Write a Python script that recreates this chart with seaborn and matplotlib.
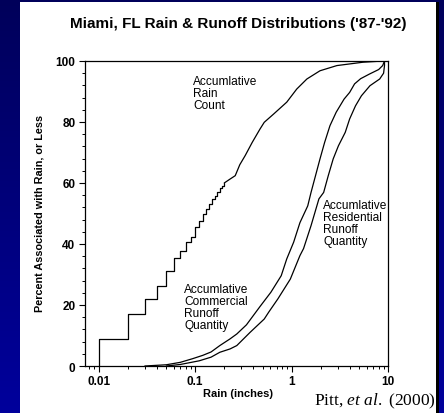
import numpy as np
import pandas as pd
import seaborn as sns
import matplotlib
matplotlib.use("Agg")
import matplotlib.pyplot as plt
from matplotlib.patches import Rectangle
from matplotlib.colors import LinearSegmentedColormap
from matplotlib.ticker import FixedLocator, LogLocator, MultipleLocator, NullFormatter

# ---------------- data ----------------
rain_step_x = [0.01, 0.01, 0.02, 0.03, 0.04, 0.05, 0.06, 0.07, 0.08, 0.09, 0.10,
               0.11, 0.12, 0.13, 0.14, 0.15, 0.16, 0.17, 0.18, 0.19, 0.20]
rain_step_y = [0, 9, 17, 22, 26.3, 31.2, 35.3, 37.8, 40.8, 42.2, 45.5,
               47.7, 49.8, 51.5, 53, 54.8, 55.8, 57, 58.2, 59.1, 60]
rain_x = [0.20, 0.23, 0.26, 0.29, 0.33, 0.39, 0.47, 0.52, 0.65, 0.89, 1.13,
          1.44, 1.97, 2.95, 5.5, 8.9, 10]
rain_y = [60, 61.3, 62.4, 66, 69, 73.3, 77.7, 79.9, 82.6, 86.5, 90.8,
          94.1, 96.8, 98.5, 99.6, 100, 100]

commercial_x = [0.03, 0.05, 0.07, 0.094, 0.12, 0.146, 0.18, 0.23, 0.27, 0.34,
                0.47, 0.61, 0.78, 0.89, 1.05, 1.22, 1.47, 1.59, 1.77, 1.97,
                2.2, 2.5, 2.9, 3.5, 4.0, 4.5, 5.2, 6.4, 8.0, 8.8, 9.2]
commercial_y = [0, 0.4, 1.2, 2.4, 3.5, 4.6, 6.7, 8.9, 10.5, 13.5,
                19.5, 24.2, 29.6, 35.1, 40.6, 47, 52.5, 56.9, 62.4, 67.9,
                73.3, 78.8, 83.2, 87.5, 89.7, 92.5, 94.2, 95.7, 97.2, 98.5, 100]

residential_x = [0.05, 0.07, 0.11, 0.146, 0.18, 0.23, 0.27, 0.37, 0.52, 0.58,
                 0.72, 0.97, 1.22, 1.33, 1.59, 1.92, 2.15, 2.4, 2.7, 3.06,
                 3.6, 4.0, 4.6, 5.3, 6.5, 8.2, 9.0, 9.2, 9.2]
residential_y = [0, 0.5, 1.7, 2.9, 4.5, 5.6, 6.7, 11, 15.4, 17.7,
                 22, 28.5, 36.2, 38.5, 46, 54.8, 56.9, 62.4, 67.9, 72.2,
                 76.6, 81, 85.3, 88.6, 91.9, 94.1, 96, 98.5, 100]

x_ticks = [0.01, 0.1, 1, 10]
x_tick_labels = ["0.01", "0.1", "1", "10"]
y_ticks = [0, 20, 40, 60, 80, 100]

title = "Miami, FL Rain & Runoff Distributions ('87-'92)"
x_label = "Rain (inches)"
y_label = "Percent Associated with Rain, or Less"

# ---------------- style ----------------
sns.set_theme(style="ticks")
plt.rcParams["font.family"] = ["Liberation Sans", "DejaVu Sans"]
plt.rcParams["mathtext.fontset"] = "custom"
plt.rcParams["mathtext.rm"] = "Liberation Serif"
plt.rcParams["mathtext.it"] = "Liberation Serif:italic"

W, H = 444, 414
fig = plt.figure(figsize=(W / 100, H / 100), dpi=100)

# background gradient + white panel
bg = fig.add_axes([0, 0, 1, 1], zorder=-10)
grad = np.linspace(0, 1, 256)[:, None]
cmap = LinearSegmentedColormap.from_list("bg", ["#00005a", "#00009c"])
bg.imshow(grad, aspect="auto", cmap=cmap, extent=[0, 1, 0, 1], origin="upper")
bg.add_patch(Rectangle((20 / W, 0), (436 - 20) / W, (H - 3) / H,
                       facecolor="white", edgecolor="none", transform=bg.transAxes))
bg.add_patch(Rectangle((436 / W, 0), 3 / W, (H - 3) / H,
                       facecolor="black", edgecolor="none", transform=bg.transAxes))
bg.set_axis_off()

# main axes
ax = fig.add_axes([84.5 / W, 1 - 367 / H, (388 - 84.5) / W, (367 - 62) / H])
ax.set_facecolor("white")

lw = 0.9
sns.lineplot(x=rain_step_x, y=rain_step_y, ax=ax, color="black", lw=lw,
             sort=False, estimator=None, drawstyle="steps-post")
sns.lineplot(x=rain_x, y=rain_y, ax=ax, color="black", lw=lw,
             sort=False, estimator=None)
sns.lineplot(x=commercial_x, y=commercial_y, ax=ax, color="black", lw=lw,
             sort=False, estimator=None)
sns.lineplot(x=residential_x, y=residential_y, ax=ax, color="black", lw=lw,
             sort=False, estimator=None)

ax.set_xscale("log")
ax.set_xlim(0.0071, 10)
ax.set_ylim(0, 100)
ax.xaxis.set_major_locator(FixedLocator(x_ticks))
ax.set_xticklabels(x_tick_labels)
ax.xaxis.set_minor_locator(LogLocator(base=10, subs=np.arange(2, 10)))
ax.xaxis.set_minor_formatter(NullFormatter())
ax.yaxis.set_major_locator(FixedLocator(y_ticks))
ax.yaxis.set_minor_locator(MultipleLocator(4))

for s in ax.spines.values():
    s.set_color("black")
    s.set_linewidth(lw)

ax.tick_params(axis="both", which="major", direction="out", length=4.5, width=0.8,
               color="black", labelsize=8.5, labelcolor="black", pad=2)
ax.tick_params(axis="both", which="minor", direction="out", length=2.5, width=0.7,
               color="black")
for lab in ax.get_xticklabels() + ax.get_yticklabels():
    lab.set_fontweight("bold")

ax.set_xlabel(x_label, fontsize=8, fontweight="bold", color="black")
ax.xaxis.set_label_coords((238 - 84.5) / (388 - 84.5), (367 - 389) / 305)
ax.set_ylabel(y_label, fontsize=7.8, fontweight="bold", color="black")
ax.yaxis.set_label_coords((44 - 84.5) / (388 - 84.5), 0.505)

fig.text(238.5 / W, 1 - 24 / H, title, ha="center", va="center",
         fontsize=11, fontweight="bold", color="black")

ann_kw = dict(fontsize=8.6, color="black", ha="left", va="top", linespacing=1.0,
              transform=ax.transAxes)
ax.text((193 - 84.5) / 303.5, (367 - 76) / 305, "Accumlative\nRain\nCount", **ann_kw)
ax.text((184 - 84.5) / 303.5, (367 - 284) / 305,
        "Accumlative\nCommercial\nRunoff\nQuantity", **ann_kw)
ax.text((323 - 84.5) / 303.5, (367 - 200) / 305,
        "Accumlative\nResidential\nRunoff\nQuantity", **ann_kw)

fig.text(314 / W, 1 - 401 / H, r"Pitt, $\mathit{et\ al.}$ (2000)", ha="left",
         va="center", fontsize=12.5, family="Liberation Serif", color="black")

fig.savefig("out.png", dpi=100)
